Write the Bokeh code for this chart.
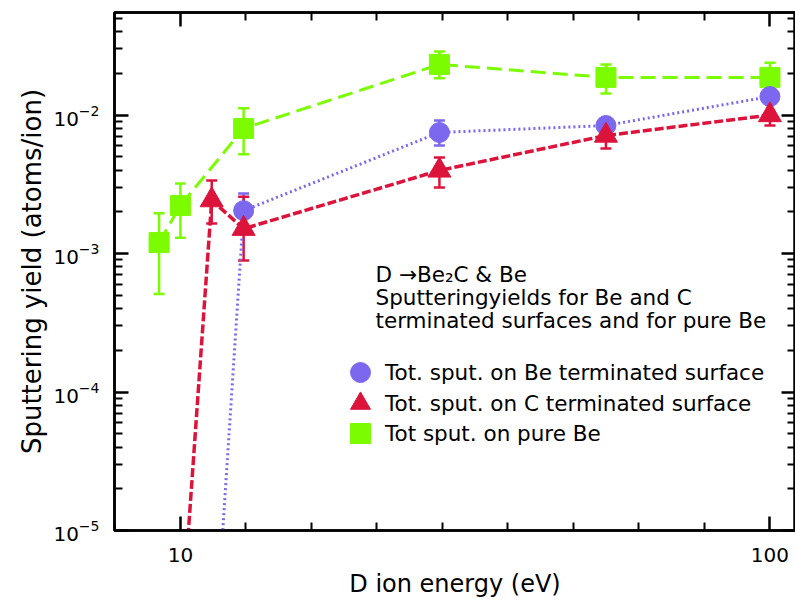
from bokeh.plotting import figure
from bokeh.models import (ColumnDataSource, Whisker, TeeHead, FixedTicker, LogAxis,
                          Legend, LegendItem, Label, Range1d, PrintfTickFormatter,
                          CustomJSTickFormatter)
from bokeh.embed import file_html
from bokeh.resources import INLINE

# ---------------- data ----------------
# Tot. sput. on Be terminated surface (first point lies far below the axis)
be_energy = [11.3, 12.8, 27.5, 52.7, 100.0]
be_yield = [6.0e-7, 2.04e-3, 7.48e-3, 8.40e-3, 1.36e-2]
be_lower = [6.0e-7, 1.54e-3, 6.02e-3, 7.70e-3, 1.25e-2]
be_upper = [6.0e-7, 2.71e-3, 9.13e-3, 9.20e-3, 1.48e-2]

# Tot. sput. on C terminated surface (first point lies far below the axis)
c_energy = [10.0, 11.3, 12.8, 27.5, 52.7, 100.0]
c_yield = [1.5e-6, 2.43e-3, 1.51e-3, 3.98e-3, 7.11e-3, 1.00e-2]
c_lower = [1.5e-6, 1.65e-3, 8.9e-4, 3.00e-3, 5.73e-3, 8.4e-3]
c_upper = [1.5e-6, 3.37e-3, 2.57e-3, 4.93e-3, 8.8e-3, 1.23e-2]

# Tot sput. on pure Be
pure_energy = [9.2, 10.0, 12.8, 27.5, 52.7, 100.0]
pure_yield = [1.2e-3, 2.22e-3, 8.0e-3, 2.32e-2, 1.87e-2, 1.87e-2]
pure_lower = [5.1e-4, 1.30e-3, 5.2e-3, 1.84e-2, 1.43e-2, 1.46e-2]
pure_upper = [1.95e-3, 3.2e-3, 1.12e-2, 2.87e-2, 2.32e-2, 2.39e-2]

x_major_ticks = [10, 100]
y_major_ticks = [1e-5, 1e-4, 1e-3, 1e-2]

legend_labels = ["Tot. sput. on Be terminated surface",
                 "Tot. sput. on C terminated surface",
                 "Tot sput. on pure Be"]
note_lines = ["D \u2192Be\u2082C & Be",
              "Sputteringyields for Be and C",
              "terminated surfaces and for pure Be"]
x_title = "D ion energy (eV)"
y_title = "Sputtering yield (atoms/ion)"

FONT = "DejaVu Sans"
BLUE = "#7B68EE"
RED = "#DC143C"
GREEN = "#7CFC00"

# ---------------- figure ----------------
p = figure(width=795, height=610, x_axis_type="log", y_axis_type="log",
           x_range=Range1d(7.73, 110.5), y_range=Range1d(1e-5, 0.055),
           output_backend="svg", toolbar_location=None,
           min_border_left=114, min_border_right=0, min_border_top=12,
           min_border_bottom=80)
p.xgrid.visible = False
p.ygrid.visible = False
p.outline_line_color = "black"
p.outline_line_width = 2.5
p.background_fill_color = "white"
p.border_fill_color = "white"

x_minor = [10 ** (1 + k / 9) for k in range(-1, 11) if k not in (0, 9)]
y_minor = [m * 10.0 ** e for e in range(-5, -1) for m in range(2, 10)]


def make_xticker():
    return FixedTicker(ticks=x_major_ticks, minor_ticks=x_minor)


def make_yticker():
    return FixedTicker(ticks=y_major_ticks, minor_ticks=y_minor)


def style_axis(ax):
    ax.axis_line_width = 2.5
    ax.axis_line_color = "black"
    ax.major_tick_in = 14
    ax.major_tick_out = 0
    ax.minor_tick_in = 8
    ax.minor_tick_out = 0
    ax.major_tick_line_width = 2.5
    ax.minor_tick_line_width = 2
    ax.major_label_text_font = FONT
    ax.major_label_text_font_size = "20px"
    ax.major_label_text_color = "black"
    ax.axis_label_text_font = FONT
    ax.axis_label_text_font_size = "24px"
    ax.axis_label_text_font_style = "normal"
    ax.axis_label_text_color = "black"


xa = p.xaxis[0]
xa.ticker = make_xticker()
xa.formatter = PrintfTickFormatter(format="%d")
style_axis(xa)
xa.major_label_standoff = 17
xa.axis_label = x_title
xa.axis_label_standoff = 5

ya = p.yaxis[0]
ya.ticker = make_yticker()
style_axis(ya)
ya.major_label_standoff = 15
ya.axis_label = y_title
ya.axis_label_text_font_size = "26px"
ya.axis_label_standoff = 3

top = LogAxis(ticker=make_xticker(), formatter=CustomJSTickFormatter(code="return ''"))
style_axis(top)
top.major_label_standoff = 0
p.add_layout(top, "above")

right = LogAxis(ticker=make_yticker(), formatter=CustomJSTickFormatter(code="return ''"))
style_axis(right)
right.major_label_standoff = 0
p.add_layout(right, "right")

# ---------------- series ----------------
series = [
    (pure_energy, pure_yield, pure_lower, pure_upper, GREEN, "15 7", 3, "square", 20),
    (be_energy, be_yield, be_lower, be_upper, BLUE, "2 3", 3, "circle", 20),
    (c_energy, c_yield, c_lower, c_upper, RED, "9 3", 3.5, "triangle", 23),
]
marker_renderers = {}
for ex, ey, lo, hi, col, dash, lw, mk, sz in series:
    src = ColumnDataSource(dict(x=ex, y=ey, lo=lo, hi=hi))
    p.line("x", "y", source=src, line_color=col, line_width=lw, line_dash=dash)
    w = Whisker(base="x", lower="lo", upper="hi", source=src, dimension="height",
                line_color=col, line_width=2.5,
                upper_head=TeeHead(size=11, line_color=col, line_width=2.5),
                lower_head=TeeHead(size=11, line_color=col, line_width=2.5))
    p.add_layout(w)
    r = p.scatter("x", "y", source=src, marker=mk, size=sz, fill_color=col,
                  line_color=col, line_width=1)
    marker_renderers[mk] = r

# ---------------- legend (markers only) ----------------
legend_rows = [("circle", 133), ("triangle", 102), ("square", 72)]
for (mk, ypos), lab in zip(legend_rows, legend_labels):
    leg = Legend(items=[LegendItem(label=lab, renderers=[marker_renderers[mk]])],
                 location=(221, ypos), glyph_width=50, glyph_height=50,
                 label_standoff=0, padding=0, margin=0, spacing=0,
                 border_line_color=None, background_fill_alpha=0,
                 label_text_font=FONT, label_text_font_size="21.5px",
                 label_text_color="black")
    p.add_layout(leg)

# ---------------- note text ----------------
for txt, ypos in zip(note_lines, [256, 233, 210]):
    p.add_layout(Label(x=261, y=ypos, x_units="screen", y_units="screen", text=txt,
                       text_font=FONT, text_font_size="21.5px", text_color="black",
                       text_baseline="alphabetic", text_align="left"))

open("out.html", "w").write(file_html(p, INLINE))
